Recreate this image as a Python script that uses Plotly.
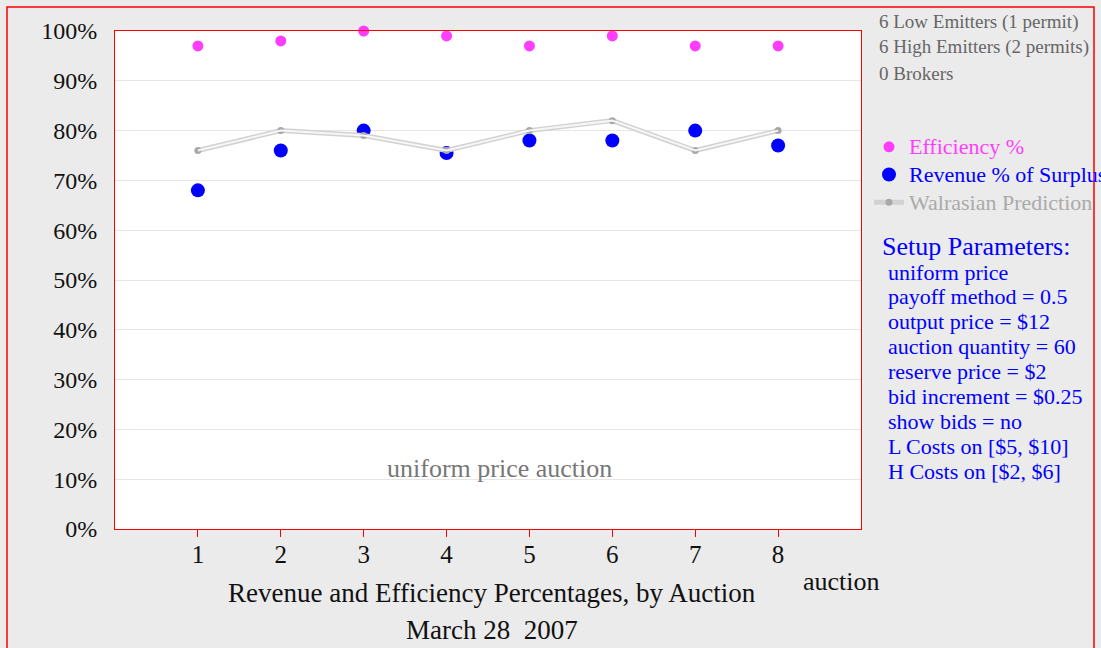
import plotly.graph_objects as go

auctions = [1, 2, 3, 4, 5, 6, 7, 8]
efficiency = [97, 98, 100, 99, 97, 99, 97, 97]
revenue = [68, 76, 80, 75.5, 78, 78, 80, 77]
walrasian = [76, 80, 79, 76, 80, 82, 76, 80]

y_ticks = [0, 10, 20, 30, 40, 50, 60, 70, 80, 90, 100]
y_tick_labels = [f"{v}%" for v in y_ticks]
info_lines = ["6 Low Emitters (1 permit)", "6 High Emitters (2 permits)", "0 Brokers"]
param_title = "Setup Parameters:"
param_lines = [
    "uniform price",
    "payoff method = 0.5",
    "output price = $12",
    "auction quantity = 60",
    "reserve price = $2",
    "bid increment = $0.25",
    "show bids = no",
    "L Costs on [$5, $10]",
    "H Costs on [$2, $6]",
]
title_lines = ["Revenue and Efficiency Percentages, by Auction", "March 28  2007"]

FONT = "Liberation Serif"
W, H = 1101, 648
ML, MR, MT, MB = 115, 240, 31, 119
PW, PH = W - ML - MR, H - MT - MB


def px(x):
    return (x - ML) / PW


def py(y):
    return (H - MB - y) / PH


def legend_name(text, color):
    return f"<span style='color:{color};font-size:22px'>{text}</span>"


fig = go.Figure()
fig.add_trace(go.Scatter(
    x=auctions, y=efficiency, mode="markers",
    name=legend_name("Efficiency %", "#ff3dff"),
    marker=dict(color="#ff3dff", size=11), cliponaxis=False,
))
fig.add_trace(go.Scatter(
    x=auctions, y=revenue, mode="markers",
    name=legend_name("Revenue % of Surplus", "#0000ff"),
    marker=dict(color="#0000ff", size=14), cliponaxis=False,
))
fig.add_trace(go.Scatter(
    x=auctions, y=walrasian, mode="lines+markers",
    name=legend_name("Walrasian Prediction", "#aaaaaa"),
    line=dict(color="#d2d2d2", width=5),
    marker=dict(color="#a8a8a8", size=7), cliponaxis=False,
))
fig.add_trace(go.Scatter(
    x=auctions, y=walrasian, mode="lines", showlegend=False,
    line=dict(color="#f6f6f6", width=2), hoverinfo="skip", cliponaxis=False,
))


def note(x, y, text, size, color, anchor="left"):
    return dict(xref="paper", yref="paper", x=px(x), y=py(y), text=text,
                showarrow=False, xanchor=anchor, yanchor="middle",
                font=dict(family=FONT, size=size, color=color))


annotations = []
for i, t in enumerate(info_lines):
    annotations.append(note(877, 22 + i * 25.5, t, 19, "#666666"))
annotations.append(note(880, 246, param_title, 26, "#0000ff"))
for i, t in enumerate(param_lines):
    annotations.append(note(886, 272 + i * 24.9, t, 22, "#0000ff"))
annotations.append(note(499, 468, "uniform price auction", 26, "#777777", "center"))
annotations.append(note(841, 581, "auction", 26, "#111111", "center"))
for i, t in enumerate(title_lines):
    annotations.append(note(492, 593 + i * 37, t, 27, "#111111", "center"))

fig.update_layout(
    width=W, height=H,
    margin=dict(l=ML, r=MR, t=MT, b=MB, autoexpand=False),
    paper_bgcolor="#ebebeb", plot_bgcolor="#ffffff",
    font=dict(family=FONT, size=24, color="#111111"),
    showlegend=True,
    legend=dict(x=px(869), y=py(128), xanchor="left", yanchor="top",
                bgcolor="rgba(0,0,0,0)", font=dict(family=FONT, size=19),
                tracegroupgap=0),
    annotations=annotations,
    shapes=[dict(type="rect", xref="paper", yref="paper",
                 x0=px(7), x1=px(1094), y0=py(700), y1=py(7),
                 line=dict(color="#ff0000", width=1.5), fillcolor="rgba(0,0,0,0)",
                 layer="below")],
)
fig.update_xaxes(range=[0, 9], tickvals=auctions, ticks="outside", ticklen=7,
                 tickcolor="#ff0000", showgrid=False, zeroline=False,
                 showline=True, linecolor="#ff0000", linewidth=1, mirror=True,
                 ticklabelstandoff=-4,
                 tickfont=dict(family=FONT, size=25, color="#111111"))
fig.update_yaxes(range=[0, 100], tickvals=y_ticks, ticktext=y_tick_labels, ticks="",
                 showgrid=True, gridcolor="#e6e6e6", zeroline=False,
                 showline=True, linecolor="#ff0000", linewidth=1, mirror=True,
                 ticklabelstandoff=12,
                 tickfont=dict(family=FONT, size=24, color="#111111"))

fig.write_html("out.html",
               config={"displayModeBar": False},
               post_script="document.body.style.margin='0';"
                           "document.body.style.background='#ebebeb';")
